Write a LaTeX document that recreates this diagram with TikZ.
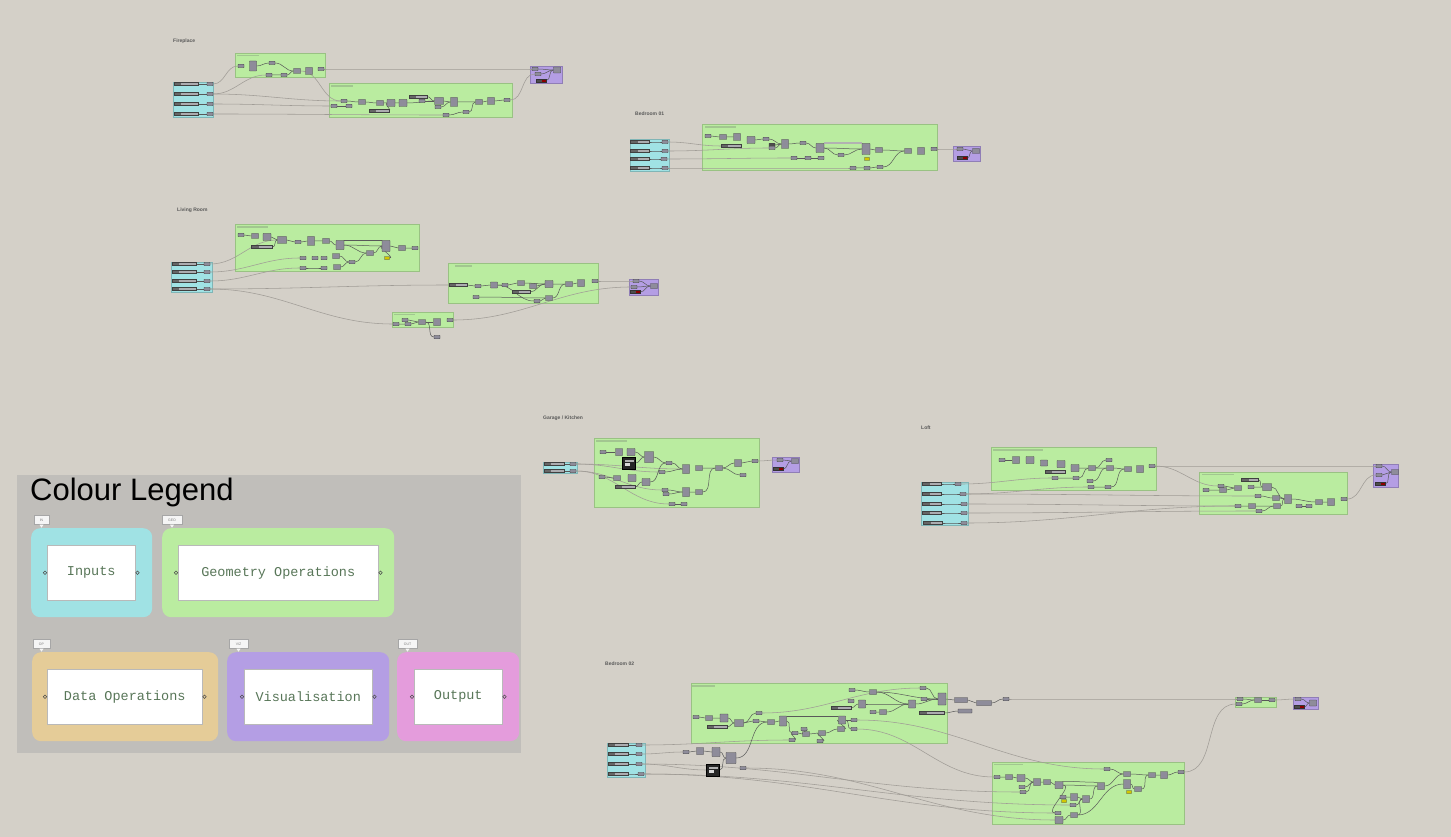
\documentclass[tikz,border=0pt]{standalone}
\usepackage{fontspec}
\setmainfont{Liberation Sans}
\newfontfamily\legmono{Liberation Mono}
\usetikzlibrary{positioning}
\definecolor{canvas}{RGB}{212,208,200}
\definecolor{legbg}{RGB}{192,190,186}
\definecolor{incyan}{RGB}{160,226,228}
\definecolor{geogreen}{RGB}{186,236,160}
\definecolor{vizpurple}{RGB}{180,158,228}
\definecolor{optan}{RGB}{229,204,152}
\definecolor{outpink}{RGB}{228,156,220}
\definecolor{compgrey}{RGB}{142,140,154}
\definecolor{wiregrey}{RGB}{160,156,150}
\definecolor{legtext}{RGB}{88,118,88}
\definecolor{hdrgreen}{RGB}{162,198,144}
\definecolor{slidbar}{RGB}{172,172,176}
\pgfdeclarelayer{grp}
\pgfdeclarelayer{wires}
\pgfsetlayers{grp,wires,main}
\tikzset{
  comp/.style   = {draw=black!75, fill=compgrey, line width=0.45pt, inner sep=0pt,
                   minimum width=6pt, minimum height=3.5pt, rounded corners=0.4pt},
  mcomp/.style  = {comp, minimum width=7pt, minimum height=5pt},
  bcomp/.style  = {comp, minimum width=8pt, minimum height=7pt},
  tcomp/.style  = {comp, minimum width=7pt, minimum height=10pt},
  ycomp/.style  = {comp, fill=yellow!60!olive, minimum width=5pt, minimum height=3pt},
  slid/.style   = {draw=black!75, fill=slidbar, line width=0.45pt, inner sep=0pt,
                   minimum width=20pt, minimum height=3pt,
                   path picture={\fill[black!60] (path picture bounding box.south west)
                     rectangle ([xshift=7pt]path picture bounding box.north west);}},
  dslid/.style  = {draw=black!80, fill=black!70, line width=0.45pt, inner sep=0pt,
                   minimum width=10pt, minimum height=3pt,
                   path picture={\fill[red!55!black] ([xshift=-4pt]path picture bounding box.south east)
                     rectangle (path picture bounding box.north east);}},
  panel/.style  = {draw=black, fill=black!85, line width=0.5pt, inner sep=0pt,
                   minimum width=13pt, minimum height=12pt,
                   path picture={\fill[white!85!black] ([xshift=2pt,yshift=3pt]path picture bounding box.south west)
                     rectangle +(5pt,3pt);
                     \fill[gray!60] ([xshift=2pt,yshift=-3pt]path picture bounding box.north west)
                     rectangle +(9pt,-1.5pt);}},
  wire/.style   = {draw=wiregrey, line width=0.55pt, out=0, in=180},
  iwire/.style  = {draw=black!65, line width=0.5pt, out=0, in=180},
  ingrp/.style  = {draw=incyan!80!black, fill=incyan, line width=0.5pt, inner sep=0pt, anchor=north west},
  geogrp/.style = {draw=geogreen!82!black, fill=geogreen, line width=0.5pt, inner sep=0pt, anchor=north west},
  vizgrp/.style = {draw=vizpurple!80!black, fill=vizpurple, line width=0.5pt, inner sep=0pt, anchor=north west},
  hdr/.style    = {fill=hdrgreen, inner sep=0pt, minimum height=1.6pt, anchor=west},
  grplbl/.style = {anchor=west, inner sep=0pt, text=black!65, font=\fontsize{5}{6}\selectfont\bfseries},
  legpanel/.style = {fill=legbg, inner sep=0pt, anchor=north west},
  leggrp/.style = {rounded corners=9pt, inner sep=0pt, anchor=north west},
  card/.style   = {fill=white, draw=gray!55, line width=0.5pt, inner sep=0pt, anchor=north west,
                   text=legtext, font=\legmono\fontsize{13.5}{15}\selectfont},
  lport/.style  = {circle, draw=black!70, line width=0.6pt, inner sep=0pt, minimum size=3.5pt},
  tag/.style    = {draw=gray!70, fill=white!92!gray, inner sep=0pt, minimum height=9pt,
                   text=gray, font=\fontsize{3.5}{4}\selectfont},
}
\begin{document}
\begin{tikzpicture}[x=1pt, y=-1pt]
  \useasboundingbox (0,0) rectangle (1451,837);
  \begin{pgfonlayer}{grp}
    \fill[canvas] (0,0) rectangle (1451,837);
    \node[legpanel, minimum width=504pt, minimum height=278pt] (legend) at (17,475) {};
    % groups
    \node[ingrp,  minimum width=40pt,  minimum height=35pt] (fpin)  at (173,82) {};
    \node[geogrp, minimum width=90pt,  minimum height=24pt] (fpg1)  at (235,53) {};
    \node[geogrp, minimum width=183pt, minimum height=34pt] (fpg2)  at (329,83) {};
    \node[vizgrp, minimum width=32pt,  minimum height=17pt] (fpviz) at (530,66) {};
    \node[ingrp,  minimum width=39pt,  minimum height=32pt] (b1in)  at (630,139) {};
    \node[geogrp, minimum width=235pt, minimum height=46pt] (b1g)   at (702,124) {};
    \node[vizgrp, minimum width=27pt,  minimum height=15pt] (b1viz) at (953,146) {};
    \node[ingrp,  minimum width=41pt,  minimum height=30pt] (lrin)  at (171,262) {};
    \node[geogrp, minimum width=184pt, minimum height=47pt] (lrg1)  at (235,224) {};
    \node[geogrp, minimum width=150pt, minimum height=40pt] (lrg2)  at (448,263) {};
    \node[geogrp, minimum width=61pt,  minimum height=15pt] (lrg3)  at (392,312) {};
    \node[vizgrp, minimum width=29pt,  minimum height=16pt] (lrviz) at (629,279) {};
    \node[ingrp,  minimum width=34pt,  minimum height=11pt] (gkin)  at (543,462) {};
    \node[geogrp, minimum width=165pt, minimum height=69pt] (gkg)   at (594,438) {};
    \node[vizgrp, minimum width=27pt,  minimum height=15pt] (gkviz) at (772,457) {};
    \node[ingrp,  minimum width=47pt,  minimum height=43pt] (lfin)  at (921,482) {};
    \node[geogrp, minimum width=165pt, minimum height=43pt] (lfg1)  at (991,447) {};
    \node[geogrp, minimum width=148pt, minimum height=42pt] (lfg2)  at (1199,472) {};
    \node[vizgrp, minimum width=25pt,  minimum height=23pt] (lfviz) at (1373,464) {};
    \node[ingrp,  minimum width=38pt,  minimum height=34pt] (b2in)  at (607,743) {};
    \node[geogrp, minimum width=256pt, minimum height=60pt] (b2g1)  at (691,683) {};
    \node[geogrp, minimum width=192pt, minimum height=62pt] (b2g2)  at (992,762) {};
    \node[geogrp, minimum width=41pt,  minimum height=10pt] (b2g3)  at (1235,697) {};
    \node[vizgrp, minimum width=25pt,  minimum height=12pt] (b2viz) at (1293,697) {};
  \end{pgfonlayer}

  % group headers
  \node[hdr, minimum width=22pt] (fph1) at (237,55.5) {};
  \node[hdr, minimum width=22pt] (fph2) at (331,86) {};
  \node[hdr, minimum width=31pt] (b1h)  at (705,127) {};
  \node[hdr, minimum width=31pt] (lrh1) at (237,227) {};
  \node[hdr, minimum width=17pt] (lrh2) at (455,266) {};
  \node[hdr, minimum width=21pt] (lrh3) at (394,314.5) {};
  \node[hdr, minimum width=31pt] (gkh)  at (596,441) {};
  \node[hdr, minimum width=50pt] (lfh1) at (993,450) {};
  \node[hdr, minimum width=32pt] (lfh2) at (1202,474.5) {};
  \node[hdr, minimum width=23pt] (b2h1) at (692,686) {};
  \node[hdr, minimum width=29pt] (b2h2) at (994,764.5) {};

  % labels
  \node[grplbl] (fplbl) at (173,41)  {Fireplace};
  \node[grplbl] (b1lbl) at (635,114) {Bedroom 01};
  \node[grplbl] (lrlbl) at (177,210) {Living Room};
  \node[grplbl] (gklbl) at (543,418) {Garage / Kitchen};
  \node[grplbl] (lflbl) at (921,428) {Loft};
  \node[grplbl] (b2lbl) at (605,664) {Bedroom 02};

  % Fireplace
  \node[slid, minimum width=24pt] (fps1) at (186,84)  {}; \node[comp] (fpo1) at (210,84)  {};
  \node[slid, minimum width=24pt] (fps2) at (186,94)  {}; \node[comp] (fpo2) at (210,94)  {};
  \node[slid, minimum width=24pt] (fps3) at (186,104) {}; \node[comp] (fpo3) at (210,104) {};
  \node[slid, minimum width=24pt] (fps4) at (186,114) {}; \node[comp] (fpo4) at (210,114) {};
  \node[comp]  (fpa1) at (241,66) {};
  \node[tcomp] (fpa2) at (253,66) {};
  \node[comp]  (fpa3) at (272,63) {};
  \node[comp]  (fpa4) at (269,75) {};
  \node[comp]  (fpa5) at (284,75) {};
  \node[mcomp] (fpa6) at (297,71) {};
  \node[bcomp, minimum width=7pt] (fpa7) at (309,71) {};
  \node[comp]  (fpa8) at (321,69) {};
  \node[comp]  (fpb1) at (344,101) {};
  \node[comp]  (fpb2) at (334,106) {};
  \node[comp]  (fpb3) at (349,106) {};
  \node[mcomp] (fpb4) at (362,102) {};
  \node[mcomp] (fpb5) at (380,103) {};
  \node[bcomp] (fpb6) at (391,103) {};
  \node[bcomp] (fpb7) at (403,103) {};
  \node[slid]  (fpb8) at (379,111) {};
  \node[slid, minimum width=18pt] (fpb9) at (418,96.5) {};
  \node[comp]  (fpb10) at (422,101) {};
  \node[bcomp, minimum width=9pt] (fpb11) at (439,101) {};
  \node[comp]  (fpb12) at (438,107) {};
  \node[tcomp, minimum height=9pt] (fpb13) at (454,102) {};
  \node[comp]  (fpb14) at (446,115) {};
  \node[comp]  (fpb15) at (466,112) {};
  \node[mcomp] (fpb16) at (479,102) {};
  \node[bcomp, minimum width=7pt] (fpb17) at (491,101) {};
  \node[comp]  (fpb18) at (507,100) {};
  \node[comp]  (fpp1) at (535,69) {};
  \node[comp]  (fpp2) at (538,74) {};
  \node[dslid] (fpp3) at (541,80.5) {};
  \node[mcomp, minimum height=6pt] (fpp4) at (557,70) {};

  % Bedroom 01
  \node[slid, minimum width=19pt] (b1s1) at (640,142) {}; \node[comp] (b1o1) at (665,142) {};
  \node[slid, minimum width=19pt] (b1s2) at (640,151) {}; \node[comp] (b1o2) at (665,151) {};
  \node[slid, minimum width=19pt] (b1s3) at (640,159) {}; \node[comp] (b1o3) at (664,159) {};
  \node[slid, minimum width=19pt] (b1s4) at (640,168) {}; \node[comp] (b1o4) at (665,168) {};
  \node[comp]  (b1a) at (708,136) {};
  \node[mcomp] (b1b) at (723,137) {};
  \node[bcomp, minimum width=7pt] (b1c) at (737,137) {};
  \node[slid]  (b1d) at (731,146) {};
  \node[bcomp] (b1e) at (751,140) {};
  \node[comp]  (b1f) at (766,139) {};
  \node[comp, fill=black!70] (b1g1) at (772,145) {};
  \node[comp]  (b1g2) at (772,148) {};
  \node[tcomp, minimum height=9pt] (b1h1) at (785,144) {};
  \node[comp]  (b1i) at (803,143) {};
  \node[bcomp, minimum height=9pt] (b1j) at (820,148) {};
  \node[comp]  (b1k) at (841,155) {};
  \node[tcomp, minimum width=8pt, minimum height=11pt] (b1l) at (866,149) {};
  \node[mcomp] (b1m) at (879,150) {};
  \node[ycomp] (b1n) at (867,159) {};
  \node[comp]  (b1o) at (794,158) {};
  \node[comp]  (b1p) at (808,158) {};
  \node[comp]  (b1q) at (821,158) {};
  \node[comp]  (b1r) at (853,168) {};
  \node[comp]  (b1t1) at (867,168) {};
  \node[comp]  (b1t2) at (880,167) {};
  \node[mcomp] (b1u) at (908,151) {};
  \node[bcomp, minimum width=7pt] (b1v) at (921,151) {};
  \node[comp]  (b1w) at (934,149) {};
  \node[comp]  (b1p1) at (960,149) {};
  \node[dslid] (b1p2) at (962,158) {};
  \node[mcomp] (b1p3) at (976,151) {};

  % Living Room
  \node[slid, minimum width=24pt] (lrs1) at (184,264) {}; \node[comp] (lro1) at (207,264) {};
  \node[slid, minimum width=24pt] (lrs2) at (184,272) {}; \node[comp] (lro2) at (207,272) {};
  \node[slid, minimum width=24pt] (lrs3) at (184,281) {}; \node[comp] (lro3) at (207,281) {};
  \node[slid, minimum width=24pt] (lrs4) at (184,289) {}; \node[comp] (lro4) at (207,289) {};
  \node[comp]  (l1a) at (241,235) {};
  \node[mcomp] (l1b) at (255,236) {};
  \node[bcomp] (l1c) at (267,237) {};
  \node[bcomp, minimum width=9pt] (l1d) at (282,240) {};
  \node[comp]  (l1e) at (298,242) {};
  \node[tcomp, minimum height=9pt] (l1f) at (311,241) {};
  \node[mcomp] (l1g) at (326,241) {};
  \node[tcomp, minimum width=8pt, minimum height=9pt] (l1h) at (340,245) {};
  \node[tcomp, minimum width=8pt, minimum height=11pt] (l1i) at (386,246) {};
  \node[mcomp] (l1j) at (402,248) {};
  \node[comp]  (l1k) at (415,248) {};
  \node[slid, minimum width=21pt] (l1l) at (262,247) {};
  \node[comp]  (l1m) at (303,258) {};
  \node[comp]  (l1n) at (315,258) {};
  \node[comp]  (l1o) at (324,258) {};
  \node[mcomp] (l1p) at (336,256) {};
  \node[comp]  (l1q) at (352,262) {};
  \node[mcomp] (l1r) at (370,253) {};
  \node[ycomp] (l1s) at (387,258) {};
  \node[comp]  (l1t) at (303,268) {};
  \node[comp]  (l1u) at (324,268) {};
  \node[mcomp] (l1v) at (337,267) {};
  \node[slid, minimum width=18pt] (l2a) at (458,285) {};
  \node[comp]  (l2b) at (478,286) {};
  \node[bcomp, minimum width=7pt, minimum height=6pt] (l2c) at (494,285) {};
  \node[comp]  (l2d) at (505,285) {};
  \node[mcomp] (l2e) at (521,283) {};
  \node[mcomp] (l2f) at (533,286) {};
  \node[bcomp] (l2g) at (549,284) {};
  \node[slid, minimum width=18pt] (l2h) at (521,292) {};
  \node[comp]  (l2i) at (476,297) {};
  \node[comp]  (l2j) at (537,301) {};
  \node[mcomp] (l2k) at (549,298) {};
  \node[mcomp] (l2l) at (569,284) {};
  \node[bcomp, minimum width=7pt] (l2m) at (581,283) {};
  \node[comp]  (l2n) at (595,281) {};
  \node[comp]  (l3a) at (405,320) {};
  \node[comp]  (l3b) at (396,324) {};
  \node[comp]  (l3c) at (408,324) {};
  \node[mcomp] (l3d) at (422,322) {};
  \node[bcomp, minimum width=7pt] (l3e) at (437,322) {};
  \node[comp]  (l3f) at (450,320) {};
  \node[comp]  (l3g) at (437,337) {};
  \node[comp]  (lrp1) at (636,281) {};
  \node[comp]  (lrp2) at (634,287) {};
  \node[dslid] (lrp3) at (635,292) {};
  \node[mcomp] (lrp4) at (654,286) {};

  % Garage / Kitchen
  \node[slid] (gks1) at (554,464) {}; \node[comp] (gko1) at (573,464) {};
  \node[slid] (gks2) at (554,471) {}; \node[comp] (gko2) at (573,471) {};
  \node[comp]  (gka) at (603,452) {};
  \node[bcomp, minimum width=7pt] (gkb) at (619,452) {};
  \node[bcomp] (gkc) at (631,452) {};
  \node[bcomp, minimum width=9pt, minimum height=11pt] (gkd) at (649,457) {};
  \node[panel] (gke) at (629,463) {};
  \node[comp]  (gkf) at (669,463) {};
  \node[comp]  (gkg) at (662,472) {};
  \node[tcomp, minimum height=9pt] (gkh) at (686,469) {};
  \node[mcomp] (gki) at (699,468) {};
  \node[mcomp] (gkj) at (719,468) {};
  \node[bcomp, minimum width=7pt] (gkk) at (738,463) {};
  \node[comp]  (gkl) at (743,475) {};
  \node[comp]  (gkm) at (755,461) {};
  \node[comp]  (gkn) at (602,477) {};
  \node[mcomp] (gko) at (617,478) {};
  \node[bcomp] (gkp) at (632,478) {};
  \node[slid]  (gkq) at (625,487) {};
  \node[bcomp] (gkr) at (646,482) {};
  \node[comp]  (gks) at (665,490) {};
  \node[comp]  (gkt) at (666,494) {};
  \node[tcomp, minimum height=9pt] (gku) at (686,492) {};
  \node[mcomp] (gkv) at (699,492) {};
  \node[comp]  (gkw) at (672,504) {};
  \node[comp]  (gkx) at (684,504) {};
  \node[comp]  (gkp1) at (780,460) {};
  \node[dslid] (gkp2) at (778,469) {};
  \node[mcomp] (gkp3) at (795,461) {};

  % Loft
  \node[slid, minimum width=19pt] (lfs1) at (932,484) {}; \node[comp] (lfo1) at (958,484) {};
  \node[slid, minimum width=19pt] (lfs2) at (932,494) {}; \node[comp] (lfo2) at (963,494) {};
  \node[slid, minimum width=19pt] (lfs3) at (932,504) {}; \node[comp] (lfo3) at (964,504) {};
  \node[slid, minimum width=19pt] (lfs4) at (932,513) {}; \node[comp] (lfo4) at (964,513) {};
  \node[slid, minimum width=19pt] (lfs5) at (933,523) {}; \node[comp] (lfo5) at (964,523) {};
  \node[comp]  (lfa) at (1002,460) {};
  \node[bcomp, minimum width=7pt] (lfb) at (1016,460) {};
  \node[bcomp] (lfc) at (1030,460) {};
  \node[bcomp, minimum width=7pt, minimum height=6pt] (lfd) at (1044,463) {};
  \node[bcomp] (lfe) at (1061,464) {};
  \node[slid]  (lff) at (1055,472) {};
  \node[bcomp] (lfg) at (1075,468) {};
  \node[comp]  (lfhh) at (1055,478) {};
  \node[comp]  (lfi) at (1076,478) {};
  \node[mcomp] (lfj) at (1092,468) {};
  \node[comp]  (lfk) at (1090,481) {};
  \node[comp]  (lfl) at (1109,460) {};
  \node[mcomp] (lfm) at (1110,468) {};
  \node[mcomp] (lfn) at (1128,469) {};
  \node[bcomp, minimum width=7pt] (lfo) at (1140,469) {};
  \node[comp]  (lfp) at (1152,466) {};
  \node[comp]  (lfq) at (1091,487) {};
  \node[comp]  (lfr) at (1108,487) {};
  \node[comp]  (lga) at (1206,490) {};
  \node[comp]  (lgb) at (1221,486) {};
  \node[mcomp] (lgc) at (1223,490) {};
  \node[mcomp] (lgd) at (1238,488) {};
  \node[slid, minimum width=17pt] (lge) at (1250,480) {};
  \node[comp]  (lgf) at (1251,487) {};
  \node[bcomp, minimum width=9pt] (lgg) at (1267,487) {};
  \node[comp]  (lgh) at (1258,496) {};
  \node[mcomp] (lgi) at (1276,498) {};
  \node[tcomp, minimum height=9pt] (lgj) at (1288,499) {};
  \node[comp]  (lgk) at (1238,506) {};
  \node[mcomp] (lgl) at (1252,506) {};
  \node[mcomp] (lgm) at (1277,506) {};
  \node[comp]  (lgn) at (1259,511) {};
  \node[comp]  (lgo) at (1299,506) {};
  \node[comp]  (lgp) at (1309,506) {};
  \node[mcomp] (lgq) at (1319,502) {};
  \node[bcomp, minimum width=7pt] (lgr) at (1331,502) {};
  \node[comp]  (lgs) at (1344,499) {};
  \node[comp]  (lfp1) at (1379,466) {};
  \node[comp]  (lfp2) at (1379,475) {};
  \node[dslid] (lfp3) at (1380,484) {};
  \node[mcomp] (lfp4) at (1395,472) {};

  % Bedroom 02
  \node[slid] (b2s1) at (618,745) {}; \node[comp] (b2o1) at (639,745) {};
  \node[slid] (b2s2) at (618,754) {}; \node[comp] (b2o2) at (639,754) {};
  \node[slid] (b2s3) at (618,764) {}; \node[comp] (b2o3) at (639,764) {};
  \node[slid] (b2s4) at (618,774) {}; \node[comp] (b2o4) at (641,774) {};
  \node[comp]  (b2a) at (696,717) {};
  \node[mcomp] (b2b) at (709,718) {};
  \node[bcomp, minimum height=8pt] (b2c) at (724,718) {};
  \node[slid]  (b2d) at (717,727) {};
  \node[bcomp, minimum width=9pt] (b2e) at (739,723) {};
  \node[comp]  (b2f) at (759,713) {};
  \node[comp]  (b2g) at (756,721) {};
  \node[mcomp] (b2hh) at (771,722) {};
  \node[tcomp] (b2i) at (783,721) {};
  \node[comp]  (b2j) at (795,733) {};
  \node[comp]  (b2k) at (804,729) {};
  \node[mcomp] (b2l) at (806,734) {};
  \node[comp]  (b2m) at (792,740) {};
  \node[mcomp] (b2n) at (822,733) {};
  \node[comp]  (b2o) at (820,741) {};
  \node[mcomp] (b2p) at (841,729) {};
  \node[tcomp, minimum height=8pt] (b2q) at (842,720) {};
  \node[comp]  (b2r) at (854,720) {};
  \node[comp]  (b2ss) at (854,729) {};
  \node[comp]  (b2t) at (852,690) {};
  \node[mcomp] (b2u) at (873,692) {};
  \node[comp]  (b2v) at (851,701) {};
  \node[mcomp, minimum height=8pt] (b2w) at (862,704) {};
  \node[slid]  (b2x) at (841,708) {};
  \node[comp]  (b2y) at (873,712) {};
  \node[mcomp] (b2z) at (883,712) {};
  \node[mcomp, minimum height=8pt] (b2aa) at (912,704) {};
  \node[comp]  (b2ab) at (923,688) {};
  \node[comp]  (b2ac) at (924,699) {};
  \node[tcomp, minimum width=8pt, minimum height=12pt] (b2ad) at (942,699) {};
  \node[slid, minimum width=25pt] (b2ae) at (932,713) {};
  \node[mcomp, minimum width=13pt] (b2af) at (961,700) {};
  \node[mcomp, minimum width=15pt] (b2ag) at (984,703) {};
  \node[comp]  (b2ah) at (1006,699) {};
  \node[mcomp, minimum width=14pt, minimum height=4pt] (b2ai) at (965,711) {};
  \node[comp]  (b2aj) at (686,752) {};
  \node[bcomp, minimum width=7pt] (b2ak) at (700,751) {};
  \node[bcomp, minimum height=9pt] (b2al) at (716,752) {};
  \node[tcomp, minimum width=10pt, minimum height=11pt] (b2am) at (731,758) {};
  \node[panel] (b2an) at (713,770) {};
  \node[comp]  (b2ao) at (743,768) {};
  \node[comp]  (b2ba) at (997,777) {};
  \node[mcomp] (b2bb) at (1009,777) {};
  \node[bcomp] (b2bc) at (1021,778) {};
  \node[bcomp, minimum width=7pt] (b2bd) at (1037,782) {};
  \node[mcomp] (b2be) at (1047,782) {};
  \node[bcomp] (b2bf) at (1059,785) {};
  \node[comp]  (b2bg) at (1022,787) {};
  \node[comp]  (b2bh) at (1023,792) {};
  \node[comp]  (b2bi) at (1063,797) {};
  \node[ycomp] (b2bj) at (1064,801) {};
  \node[bcomp, minimum width=7pt] (b2bk) at (1074,797) {};
  \node[bcomp, minimum width=7pt] (b2bl) at (1086,799) {};
  \node[comp]  (b2bm) at (1073,805) {};
  \node[bcomp, minimum width=7pt] (b2bn) at (1101,786) {};
  \node[comp]  (b2bo) at (1107,769) {};
  \node[mcomp] (b2bp) at (1127,774) {};
  \node[tcomp, minimum height=9pt] (b2bq) at (1127,784) {};
  \node[ycomp] (b2br) at (1129,792) {};
  \node[mcomp] (b2bs) at (1138,789) {};
  \node[mcomp] (b2bt) at (1152,775) {};
  \node[bcomp, minimum width=7pt] (b2bu) at (1164,775) {};
  \node[comp]  (b2bv) at (1181,772) {};
  \node[comp]  (b2bw) at (1058,813) {};
  \node[bcomp] (b2bx) at (1059,820) {};
  \node[mcomp] (b2by) at (1074,815) {};
  \node[comp]  (b2c1) at (1240,699) {};
  \node[comp]  (b2c2) at (1239,704) {};
  \node[mcomp] (b2c3) at (1258,700) {};
  \node[comp]  (b2c4) at (1272,700) {};
  \node[comp]  (b2p1) at (1298,699) {};
  \node[dslid] (b2p2) at (1299,707) {};
  \node[mcomp, minimum height=6pt] (b2p3) at (1313,703) {};

  \begin{pgfonlayer}{wires}
    % Fireplace
    \draw[iwire] (fps1) to (fpo1); \draw[iwire] (fps2) to (fpo2);
    \draw[iwire] (fps3) to (fpo3); \draw[iwire] (fps4) to (fpo4);
    \draw[wire] (fpo1) to (fpa1); \draw[wire] (fpo2) to (fpa4);
    \draw[wire] (fpo2) to (fpb1); \draw[wire] (fpo3) to (fpb2);
    \draw[wire] (fpo4) to (fpb14);
    \draw[iwire] (fpa2) to (fpa3) to (fpa6); \draw[iwire] (fpa4) to (fpa5) to (fpa6);
    \draw[wire] (fpa6) to (fpb1); \draw[wire] (fpa8) to (fpp1);
    \draw[iwire] (fpb1) to (fpb4); \draw[iwire] (fpb2) to (fpb3);
    \draw[iwire] (fpb4) to (fpb5) to (fpb6) to (fpb7) to (fpb11);
    \draw[iwire] (fpb8) to (fpb6); \draw[iwire] (fpb9) to (fpb11); \draw[iwire] (fpb10) to (fpb11);
    \draw[iwire] (fpb11) to (fpb13); \draw[iwire] (fpb12) to (fpb13);
    \draw[iwire] (fpb13) to (fpb16) to (fpb17) to (fpb18);
    \draw[iwire] (fpb14) to (fpb15) to (fpb16);
    \draw[wire] (fpb18) to (fpp2);
    \draw[iwire] (fpp1) to (fpp4); \draw[iwire] (fpp2) to (fpp4); \draw[iwire] (fpp3) to (fpp4);
    % Bedroom 01
    \draw[iwire] (b1s1) to (b1o1); \draw[iwire] (b1s2) to (b1o2);
    \draw[iwire] (b1s3) to (b1o3); \draw[iwire] (b1s4) to (b1o4);
    \draw[wire] (b1o1) to (b1d); \draw[wire] (b1o2) to (b1g2);
    \draw[wire] (b1o3) to (b1o); \draw[wire] (b1o4) to (b1r);
    \draw[iwire] (b1a) to (b1b) to (b1c); \draw[iwire] (b1e) to (b1f) to (b1h1);
    \draw[iwire] (b1g1) to (b1h1); \draw[iwire] (b1g2) to (b1h1);
    \draw[iwire] (b1h1) to (b1i) to (b1j);
    \draw[iwire, draw=black!30, line width=2pt] (b1j.north east) to (b1l.north west);
    \draw[iwire] (b1j) to (b1l); \draw[iwire] (b1j) to (b1k) to (b1l);
    \draw[iwire] (b1l) to (b1m) to (b1u); \draw[iwire] (b1o) to (b1p) to (b1q);
    \draw[iwire] (b1r) to (b1t1) to (b1t2) to (b1u);
    \draw[wire] (b1w) to (b1p1);
    \draw[iwire] (b1p1) to (b1p3); \draw[iwire] (b1p2) to (b1p3);
    % Living Room
    \draw[iwire] (lrs1) to (lro1); \draw[iwire] (lrs2) to (lro2);
    \draw[iwire] (lrs3) to (lro3); \draw[iwire] (lrs4) to (lro4);
    \draw[wire] (lro1) to (l1d); \draw[wire] (lro2) to (l1m);
    \draw[wire] (lro3) to (l1t); \draw[wire] (lro4) to (l2a);
    \draw[wire] (lro4) to (l3b);
    \draw[iwire] (l1a) to (l1b); \draw[iwire] (l1c) to (l1d); \draw[iwire] (l1l) to (l1d);
    \draw[iwire] (l1d) to (l1e) to (l1f) to (l1g) to (l1h);
    \draw[iwire] (l1h.north east) to (l1i.north west); \draw[iwire] (l1h) to (l1i);
    \draw[iwire] (l1h) to (l1r); \draw[iwire] (l1p) to (l1q); \draw[iwire] (l1v) to (l1q);
    \draw[iwire] (l1q) to (l1r) to (l1i); \draw[iwire] (l1s) to (l1i);
    \draw[iwire] (l1i) to (l1j) to (l1k); \draw[iwire] (l1t) to (l1u);
    \draw[iwire] (l2a) to (l2b) to (l2c) to (l2d) to (l2e) to (l2g);
    \draw[iwire] (l2f) to (l2g); \draw[iwire] (l2h) to (l2g); \draw[iwire] (l2c) to (l2j);
    \draw[iwire] (l2i) to (l2k); \draw[iwire] (l2j) to (l2k);
    \draw[iwire] (l2g) to (l2l) to (l2m); \draw[iwire] (l2k) to (l2l);
    \draw[wire] (l2n) to (lrp1);
    \draw[iwire] (l3a) to (l3d); \draw[iwire] (l3b) to (l3c) to (l3d);
    \draw[iwire] (l3d) to (l3e); \draw[iwire] (l3d) to (l3g);
    \draw[wire] (l3f) to (lrp2);
    \draw[iwire] (lrp1) to (lrp4); \draw[iwire] (lrp2) to (lrp4); \draw[iwire] (lrp3) to (lrp4);
    % Garage / Kitchen
    \draw[iwire] (gks1) to (gko1); \draw[iwire] (gks2) to (gko2);
    \draw[wire] (gko1) to (gkg); \draw[wire] (gko1) to (gkh);
    \draw[wire] (gko2) to (gks); \draw[wire] (gko2) to (gkw);
    \draw[iwire] (gka) to (gkb); \draw[iwire] (gkc) to (gkd); \draw[iwire] (gke) to (gkd);
    \draw[iwire] (gkd) to (gkf) to (gkh); \draw[iwire] (gkg) to (gkh);
    \draw[iwire] (gki) to (gkj) to (gkk) to (gkm); \draw[iwire] (gkj) to (gkl);
    \draw[iwire] (gkn) to (gko); \draw[iwire] (gkq) to (gkr) to (gkf);
    \draw[iwire] (gks) to (gku); \draw[iwire] (gkt) to (gku);
    \draw[iwire] (gku) to (gkv) to (gkj); \draw[iwire] (gkw) to (gkx);
    \draw[wire] (gkm) to (gkp1);
    \draw[iwire] (gkp1) to (gkp3); \draw[iwire] (gkp2) to (gkp3);
    % Loft
    \draw[iwire] (lfs1) to (lfo1); \draw[iwire] (lfs2) to (lfo2); \draw[iwire] (lfs3) to (lfo3);
    \draw[iwire] (lfs4) to (lfo4); \draw[iwire] (lfs5) to (lfo5);
    \draw[wire] (lfo1) to (lfhh); \draw[wire] (lfo2) to (lfq);
    \draw[wire] (lfo2) to (lgh); \draw[wire] (lfo3) to (lgk);
    \draw[wire] (lfo4) to (lgn); \draw[wire] (lfo5) to (lgk);
    \draw[iwire] (lfa) to (lfb); \draw[iwire] (lfg) to (lfj) to (lfm) to (lfn);
    \draw[iwire] (lfj) to (lfl); \draw[iwire] (lfhh) to (lfi) to (lfj);
    \draw[iwire] (lfk) to (lfm); \draw[iwire] (lfq) to (lfr) to (lfn);
    \draw[wire] (lfp) to (lfp1); \draw[wire] (lfp) to (lgb);
    \draw[iwire] (lga) to (lgc) to (lgd); \draw[iwire] (lgb) to (lgd);
    \draw[iwire] (lgf) to (lgg) to (lgj); \draw[iwire] (lge) to (lgg);
    \draw[iwire] (lgh) to (lgi) to (lgj);
    \draw[iwire] (lgk) to (lgl) to (lgm) to (lgj); \draw[iwire] (lgn) to (lgm);
    \draw[iwire] (lgo) to (lgp); \draw[iwire] (lgj) to (lgq) to (lgr);
    \draw[wire] (lgs) to (lfp2);
    \draw[iwire] (lfp1) to (lfp4); \draw[iwire] (lfp2) to (lfp4); \draw[iwire] (lfp3) to (lfp4);
    % Bedroom 02
    \draw[iwire] (b2s1) to (b2o1); \draw[iwire] (b2s2) to (b2o2);
    \draw[iwire] (b2s3) to (b2o3); \draw[iwire] (b2s4) to (b2o4);
    \draw[wire] (b2o1) to (b2m); \draw[wire] (b2o2) to (b2aj);
    \draw[wire] (b2o3) to (b2an); \draw[wire] (b2o3) to (b2bh);
    \draw[wire] (b2o4) to (b2bw); \draw[wire] (b2o4) to (b2bm);
    \draw[wire] (b2ao) to (b2bx);
    \draw[iwire] (b2aj) to (b2ak); \draw[iwire] (b2ak) to (b2al) to (b2am);
    \draw[iwire] (b2an) to (b2am); \draw[iwire] (b2am) to (b2hh);
    \draw[iwire] (b2a) to (b2b) to (b2c) to (b2e); \draw[iwire] (b2d) to (b2e);
    \draw[iwire] (b2e) to (b2g) to (b2hh) to (b2i); \draw[iwire] (b2e) to (b2f);
    \draw[wire] (b2f) to (b2ab);
    \draw[iwire] (b2i.north east) to (b2q.north west);
    \draw[iwire] (b2i) to (b2j) to (b2l) to (b2n) to (b2p) to (b2q);
    \draw[iwire] (b2k) to (b2l); \draw[iwire] (b2m) to (b2j); \draw[iwire] (b2o) to (b2n);
    \draw[iwire] (b2q) to (b2r); \draw[iwire] (b2q) to (b2ss);
    \draw[iwire] (b2t) to (b2u) to (b2aa); \draw[iwire] (b2u) to (b2ad);
    \draw[iwire] (b2w) to (b2aa); \draw[iwire] (b2x) to (b2w);
    \draw[iwire] (b2y) to (b2z) to (b2aa); \draw[iwire] (b2aa) to (b2ad);
    \draw[iwire] (b2ab) to (b2ad); \draw[iwire] (b2ac) to (b2ad);
    \draw[iwire] (b2ad) to (b2af) to (b2ag) to (b2ah); \draw[iwire] (b2ae) to (b2ai);
    \draw[wire] (b2ss) to (b2ba); \draw[wire] (b2r) to (b2bo);
    \draw[wire] (b2ah) to (b2c1);
    \draw[iwire] (b2ba) to (b2bb) to (b2bc) to (b2bd) to (b2be) to (b2bf) to (b2bn);
    \draw[iwire] (b2bf.north east) to (b2bn.north west);
    \draw[iwire] (b2bg) to (b2bd); \draw[iwire] (b2bh) to (b2bd);
    \draw[iwire] (b2bi) to (b2bk) to (b2bl) to (b2bn);
    \draw[iwire] (b2bf) to (b2bw); \draw[iwire] (b2bx) to (b2by) to (b2bl);
    \draw[iwire] (b2bm) to (b2bl); \draw[iwire] (b2bn) to (b2bp);
    \draw[iwire] (b2bo) to (b2bp) to (b2bt) to (b2bu) to (b2bv);
    \draw[iwire] (b2bq) to (b2bs) to (b2bt); \draw[iwire] (b2by) to (b2bq);
    \draw[wire] (b2bv) to (b2c2);
    \draw[iwire] (b2c1) to (b2c3); \draw[iwire] (b2c2) to (b2c3); \draw[iwire] (b2c3) to (b2c4);
    \draw[wire] (b2c4) to (b2p1);
    \draw[iwire] (b2p1) to (b2p3); \draw[iwire] (b2p2) to (b2p3);
  \end{pgfonlayer}

  % Colour legend
  \node[anchor=base west, inner sep=0pt, font=\fontsize{31}{33}\selectfont] (legtitle) at (30,500) {Colour Legend};
  \node[leggrp, fill=incyan,    minimum width=121pt, minimum height=89pt] (legin)  at (31,528)  {};
  \node[leggrp, fill=geogreen,  minimum width=232pt, minimum height=89pt] (leggeo) at (162,528) {};
  \node[leggrp, fill=optan,     minimum width=186pt, minimum height=89pt] (legop)  at (32,652)  {};
  \node[leggrp, fill=vizpurple, minimum width=162pt, minimum height=89pt] (legviz) at (227,652) {};
  \node[leggrp, fill=outpink,   minimum width=122pt, minimum height=89pt] (legout) at (397,652) {};
  \node[card, minimum width=88pt,  minimum height=55pt] (cardin)  at (47,545)  {Inputs};
  \node[card, minimum width=200pt, minimum height=55pt] (cardgeo) at (178,545) {Geometry Operations};
  \node[card, minimum width=155pt, minimum height=55pt] (cardop)  at (47,669)  {Data Operations};
  \node[card, minimum width=128pt, minimum height=55pt] (cardviz) at (244,669) {Visualisation};
  \node[card, minimum width=88pt,  minimum height=55pt] (cardout) at (414,669) {Output};
  \node[lport] (pinl)  at ([xshift=-2pt]cardin.west)  {}; \node[lport] (pinr)  at ([xshift=2pt]cardin.east)  {};
  \node[lport] (pgeol) at ([xshift=-2pt]cardgeo.west) {}; \node[lport] (pgeor) at ([xshift=2pt]cardgeo.east) {};
  \node[lport] (popl)  at ([xshift=-2pt]cardop.west)  {}; \node[lport] (popr)  at ([xshift=2pt]cardop.east)  {};
  \node[lport] (pvizl) at ([xshift=-2pt]cardviz.west) {}; \node[lport] (pvizr) at ([xshift=2pt]cardviz.east) {};
  \node[lport] (poutl) at ([xshift=-2pt]cardout.west) {}; \node[lport] (poutr) at ([xshift=2pt]cardout.east) {};
  \node[tag, minimum width=15pt] (tagin)  at (41.5,520)  {IN};
  \node[tag, minimum width=20pt] (taggeo) at (172,520)   {GEO};
  \node[tag, minimum width=17pt] (tagop)  at (41.5,644)  {OP};
  \node[tag, minimum width=19pt] (tagviz) at (238.5,644) {VIZ};
  \node[tag, minimum width=19pt] (tagout) at (407.5,644) {OUT};
  \fill[white!92!gray] ([xshift=-2pt]tagin.south)  -- ([xshift=2pt]tagin.south)  -- ([yshift=-3pt]tagin.south)  -- cycle;
  \fill[white!92!gray] ([xshift=-2pt]taggeo.south) -- ([xshift=2pt]taggeo.south) -- ([yshift=-3pt]taggeo.south) -- cycle;
  \fill[white!92!gray] ([xshift=-2pt]tagop.south)  -- ([xshift=2pt]tagop.south)  -- ([yshift=-3pt]tagop.south)  -- cycle;
  \fill[white!92!gray] ([xshift=-2pt]tagviz.south) -- ([xshift=2pt]tagviz.south) -- ([yshift=-3pt]tagviz.south) -- cycle;
  \fill[white!92!gray] ([xshift=-2pt]tagout.south) -- ([xshift=2pt]tagout.south) -- ([yshift=-3pt]tagout.south) -- cycle;
\end{tikzpicture}
\end{document}
